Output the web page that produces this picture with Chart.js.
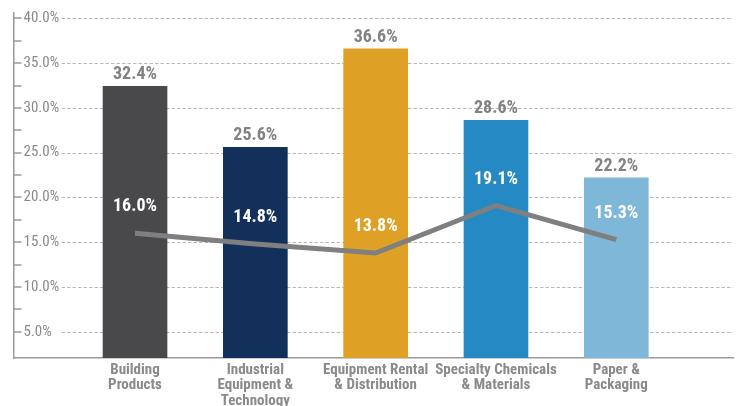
<!DOCTYPE html>
<html>
<head>
<meta charset="utf-8">
<script src="https://cdn.jsdelivr.net/npm/chart.js@4.4.1/dist/chart.umd.min.js"></script>
<style>
    html, body { margin: 0; padding: 0; background: #fff; }
    #chart-wrap { width: 740px; height: 406px; }
</style>
</head>
<body>
<div id="chart-wrap"><canvas id="segmentChart"></canvas></div>
<script>
// Chart data
const categories = [
    ["Building", "Products"],
    ["Industrial", "Equipment &", "Technology"],
    ["Equipment Rental", "& Distribution"],
    ["Specialty Chemicals", "& Materials"],
    ["Paper &", "Packaging"]
];
const barValues = [32.4, 25.6, 36.6, 28.6, 22.2];
const lineValues = [16.0, 14.8, 13.8, 19.1, 15.3];
const barColors = ["#49494b", "#12305a", "#dea025", "#258ac4", "#7fb7d8"];
const yTicks = [5, 10, 15, 20, 25, 30, 35, 40];
const yMinorTicks = [7.5, 12.5, 17.5, 22.5, 27.5, 32.5, 37.5];

const FONT = "'Liberation Sans Narrow', 'Roboto Condensed', 'DejaVu Sans Condensed', sans-serif";
const GREY_TEXT = "#8a8a8c";
const AXIS_GREY = "#9a9a9a";

// ✅ Tick marks right of the y axis + dashed grid lines
const axisDecor = {
    id: "axisDecor",
    beforeDatasetsDraw(chart) {
        const { ctx, chartArea, scales: { y } } = chart;
        ctx.save();
        ctx.strokeStyle = AXIS_GREY;
        ctx.lineWidth = 1.5;
        [...yTicks, ...yMinorTicks].forEach(v => {
            const py = Math.round(y.getPixelForValue(v));
            ctx.beginPath();
            ctx.moveTo(chartArea.left, py);
            ctx.lineTo(chartArea.left + 8, py);
            ctx.stroke();
        });
        ctx.strokeStyle = "#b8b8b8";
        ctx.lineWidth = 1;
        ctx.setLineDash([3.5, 2]);
        yTicks.forEach(v => {
            const py = Math.round(y.getPixelForValue(v)) + 0.5;
            ctx.beginPath();
            ctx.moveTo(chartArea.left + 48, py);
            ctx.lineTo(chartArea.right, py);
            ctx.stroke();
        });
        ctx.restore();
    }
};

// ✅ Value labels above bars and on the line
const valueLabels = {
    id: "valueLabels",
    afterDatasetsDraw(chart) {
        const { ctx } = chart;
        const lineMeta = chart.getDatasetMeta(0);
        const barMeta = chart.getDatasetMeta(1);
        ctx.save();
        ctx.textAlign = "center";
        ctx.textBaseline = "alphabetic";
        ctx.font = "bold 18px " + FONT;
        ctx.fillStyle = "#828284";
        barMeta.data.forEach((bar, i) => {
            ctx.fillText(barValues[i].toFixed(1) + "%", bar.x, bar.y - 7);
        });
        ctx.fillStyle = "#ffffff";
        lineMeta.data.forEach((pt, i) => {
            ctx.fillText(lineValues[i].toFixed(1) + "%", pt.x, pt.y - 22);
        });
        ctx.restore();
    }
};

Chart.defaults.font.family = FONT;

new Chart(document.getElementById("segmentChart"), {
    type: "bar",
    data: {
        datasets: [
            {
                type: "line",
                data: lineValues.map((v, i) => ({ x: i, y: v })),
                borderColor: "#7f7f81",
                borderWidth: 5,
                borderJoinStyle: "miter",
                pointRadius: 0,
                tension: 0,
                order: 0
            },
            {
                type: "bar",
                data: barValues.map((v, i) => ({ x: i, y: v })),
                backgroundColor: barColors,
                barThickness: 64,
                order: 1
            }
        ]
    },
    options: {
        responsive: true,
        maintainAspectRatio: false,
        animation: false,
        layout: { padding: { top: 13, left: 13.5, right: 7, bottom: 0 } },
        plugins: {
            legend: { display: false },
            tooltip: { enabled: false }
        },
        scales: {
            x: {
                type: "linear",
                min: -1.01,
                max: 4.97,
                offset: false,
                afterFit: s => { s.height = 48; },
                afterBuildTicks: s => { s.ticks = categories.map((c, i) => ({ value: i })); },
                grid: { display: false, drawTicks: false, offset: false },
                border: { color: AXIS_GREY, width: 1.5 },
                ticks: {
                    autoSkip: false,
                    maxRotation: 0,
                    padding: 4,
                    color: GREY_TEXT,
                    font: { size: 15, weight: "bold", lineHeight: 1.04 },
                    callback: v => categories[v]
                }
            },
            y: {
                min: 2.07,
                max: 40.6,
                afterFit: s => {
                    s.width = 0;
                    s.paddingTop = 0;
                    s.paddingBottom = 0;
                },
                afterBuildTicks: s => { s.ticks = yTicks.map(v => ({ value: v })); },
                grid: { display: false, drawTicks: false },
                border: { color: AXIS_GREY, width: 1.5 },
                ticks: {
                    mirror: true,
                    padding: 10,
                    color: GREY_TEXT,
                    font: { size: 15 },
                    callback: v => v.toFixed(1) + "%"
                }
            }
        }
    },
    plugins: [axisDecor, valueLabels]
});
</script>
</body>
</html>
